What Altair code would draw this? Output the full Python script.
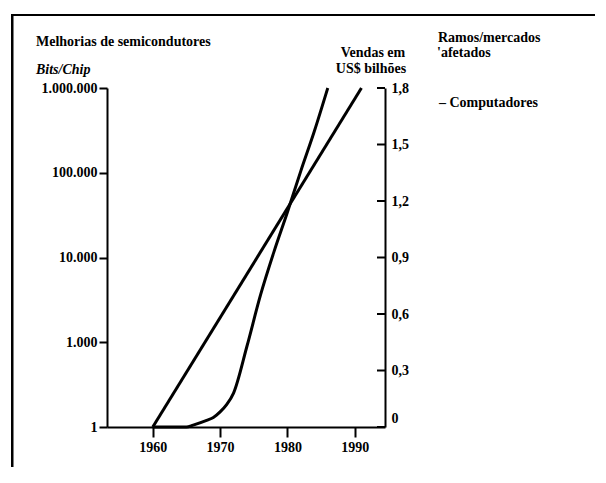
import altair as alt
import pandas as pd

# ---- data ----
bits_years = [1960, 1991]
bits_values = [1, 1000000]

sales_years = [1960, 1965, 1966, 1968, 1969, 1970, 1971, 1972, 1974, 1976, 1978, 1980, 1982, 1984, 1986]
sales_values = [0.0, 0.0, 0.01, 0.035, 0.05, 0.08, 0.12, 0.18, 0.43, 0.70, 0.93, 1.14, 1.36, 1.57, 1.80]

left_tick_levels = [0, 1, 2, 3, 4]
left_tick_labels = ["1", "1.000", "10.000", "100.000", "1.000.000"]
right_ticks = [0, 0.3, 0.6, 0.9, 1.2, 1.5, 1.8]
x_ticks = [1960, 1970, 1980, 1990]

FONT = "Liberation Serif"
W, H = 278, 339

bits_df = pd.DataFrame({"year": bits_years, "bits": bits_values})
sales_df = pd.DataFrame({"year": sales_years, "sales": sales_values})
rt_df = pd.DataFrame({"v": right_ticks})

xscale = alt.Scale(domain=[1953.2, 1994.5], nice=False, zero=False)
xaxis = alt.Axis(orient="bottom", values=x_ticks, format="d", grid=False, domain=True,
                 domainColor="black", domainWidth=2, ticks=True,
                 tickColor="black", tickWidth=2, tickSize=10, labelPadding=3, title=None,
                 labelFont=FONT, labelFontSize=14, labelFontWeight="bold", labelColor="black")

label_expr = "[" + ",".join("'%s'" % s for s in left_tick_labels) + "][datum.value]"

bits = alt.Chart(bits_df).transform_calculate(
    level="datum.bits <= 1 ? 0 : log(datum.bits) / LN10 - 2"
).mark_line(color="black", strokeWidth=3).encode(
    x=alt.X("year:Q", scale=xscale, axis=xaxis),
    y=alt.Y("level:Q", scale=alt.Scale(domain=[0, 4], nice=False),
            axis=alt.Axis(orient="left", values=left_tick_levels, labelExpr=label_expr, grid=False,
                          domainColor="black", domainWidth=2, tickColor="black", tickWidth=2,
                          tickSize=8, labelPadding=2, title=None, labelFont=FONT,
                          labelFontSize=14, labelFontWeight="bold", labelColor="black")),
)

sales = alt.Chart(sales_df).mark_line(color="black", strokeWidth=3, interpolate="monotone").encode(
    x=alt.X("year:Q", scale=xscale, axis=xaxis),
    y=alt.Y("sales:Q", scale=alt.Scale(domain=[0, 1.8], nice=False),
            axis=alt.Axis(orient="right", values=right_ticks, grid=False,
                          labelExpr="datum.value == 0 ? '0' : replace(format(datum.value, '.1f'), '.', ',')",
                          domainColor="black", domainWidth=2, ticks=False, tickSize=0,
                          labelPadding=6, title=None, labelFont=FONT, labelFontSize=14,
                          labelFontWeight="bold", labelColor="black",
                          labelOffset={"condition": {"test": "datum.value === 0", "value": -9}, "value": 0})),
)

rticks = alt.Chart(rt_df).mark_rule(color="black", strokeWidth=2).encode(
    y=alt.Y("v:Q", scale=alt.Scale(domain=[0, 1.8], nice=False), axis=None),
    x=alt.value(W - 8),
    x2=alt.value(W),
)

one = alt.Data(values=[{"k": 1}])


def txt(s, x, y, align="left", style="normal", size=14):
    return alt.Chart(one).mark_text(text=s, align=align, baseline="middle", font=FONT,
                                    fontSize=size, fontWeight="bold", fontStyle=style,
                                    color="black").encode(x=alt.value(x), y=alt.value(y))


texts = [
    txt("Melhorias de semicondutores", -71, -46),
    txt("Bits/Chip", -71, -18, style="italic"),
    txt("Vendas em", 266, -35, align="center"),
    txt("US$ bilhões", 264, -19, align="center"),
    txt("Ramos/mercados", 331, -50),
    txt("'afetados", 330, -35),
    txt("– Computadores", 332, 15),
]

frame_top = alt.Chart(one).mark_rect(color="black").encode(
    x=alt.value(-96), x2=alt.value(510), y=alt.value(-74), y2=alt.value(-72))
frame_left = alt.Chart(alt.Data(values=[{"k": 2}])).mark_rect(color="black").encode(
    x=alt.value(-96), x2=alt.value(-93.5), y=alt.value(-74), y2=alt.value(380))

chart = alt.layer(frame_top, frame_left, bits, sales, rticks, *texts).resolve_scale(
    y="independent"
).properties(
    width=W, height=H,
    padding={"left": 99, "top": 80, "right": 210, "bottom": 40},
    autosize=alt.AutoSizeParams(type="none"),
    background="white",
).configure_view(stroke=None)

chart.save("out.html", embed_options={"renderer": "svg", "actions": False})
